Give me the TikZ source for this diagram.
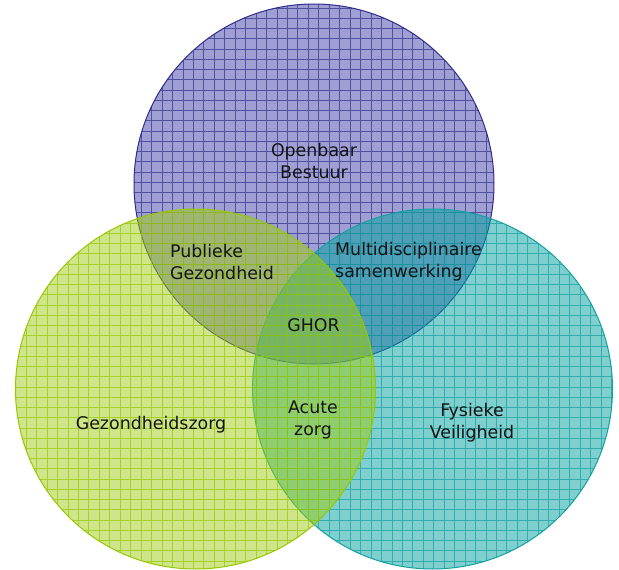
\documentclass[tikz,border=0pt]{standalone}
\usepackage{fontspec}
\setmainfont{DejaVu Sans}
\usepackage[HTML]{xcolor}
\usepackage{tikz}
\usetikzlibrary{positioning}

\definecolor{bestuurfill}{HTML}{4040A8}
\definecolor{bestuurline}{HTML}{2E2E8C}
\definecolor{zorgfill}{HTML}{A0CC14}
\definecolor{zorgline}{HTML}{96C800}
\definecolor{veiligfill}{HTML}{00A0A0}
\definecolor{veiligline}{HTML}{12A0A0}

\begin{document}
\begin{tikzpicture}[x=1pt, y=-1pt,
  lbl/.style={font=\fontsize{17.4}{22}\selectfont, text=black!92, inner sep=0pt},
  raster/.style={line width=0.8pt, draw opacity=0.7, xstep=10.45pt, ystep=10.24pt, shift={(308.3,18.3)}},
  rim/.style={line width=1pt}]

\useasboundingbox (0,0) rectangle (619,570);

\coordinate (bestuur) at (314,184);
\coordinate (veilig) at (432.5,389);
\coordinate (zorg) at (195.5,389);

% --- Openbaar Bestuur (top) ---
\begin{scope}
\clip (bestuur) circle (180);
\fill[bestuurfill, fill opacity=0.5] (bestuur) circle (180);
\draw[raster, bestuurline] (-400,-400) grid (700,700);
\end{scope}
\draw[rim, bestuurline] (bestuur) circle (180);

% --- Fysieke Veiligheid (right) ---
\begin{scope}
\clip (veilig) circle (180);
\fill[veiligfill, fill opacity=0.5] (veilig) circle (180);
\draw[raster, veiligline] (-400,-400) grid (700,700);
\end{scope}
\draw[rim, veiligline] (veilig) circle (180);

% --- Gezondheidszorg (left), lies on top ---
\begin{scope}
\clip (zorg) circle (180);
\fill[zorgfill, fill opacity=0.5] (zorg) circle (180);
\draw[raster, zorgline] (-400,-400) grid (700,700);
\end{scope}
\draw[rim, zorgline] (zorg) circle (180);

% --- labels ---
\node[lbl, align=center] (ob) at (314,161.5) {Openbaar\\Bestuur};
\node[lbl, align=left, anchor=west] (pg) at (170,262) {Publieke\\Gezondheid};
\node[lbl, align=left, anchor=west] (ms) at (335,262) {Multidisciplinaire\\samenwerking};
\node[lbl] (ghor) at (313.5,325.5) {GHOR};
\node[lbl, align=center] (az) at (313,420) {Acute\\zorg};
\node[lbl] (gz) at (151,424.5) {Gezondheidszorg};
\node[lbl, align=center] (fv) at (472,423) {Fysieke\\Veiligheid};

\end{tikzpicture}
\end{document}
